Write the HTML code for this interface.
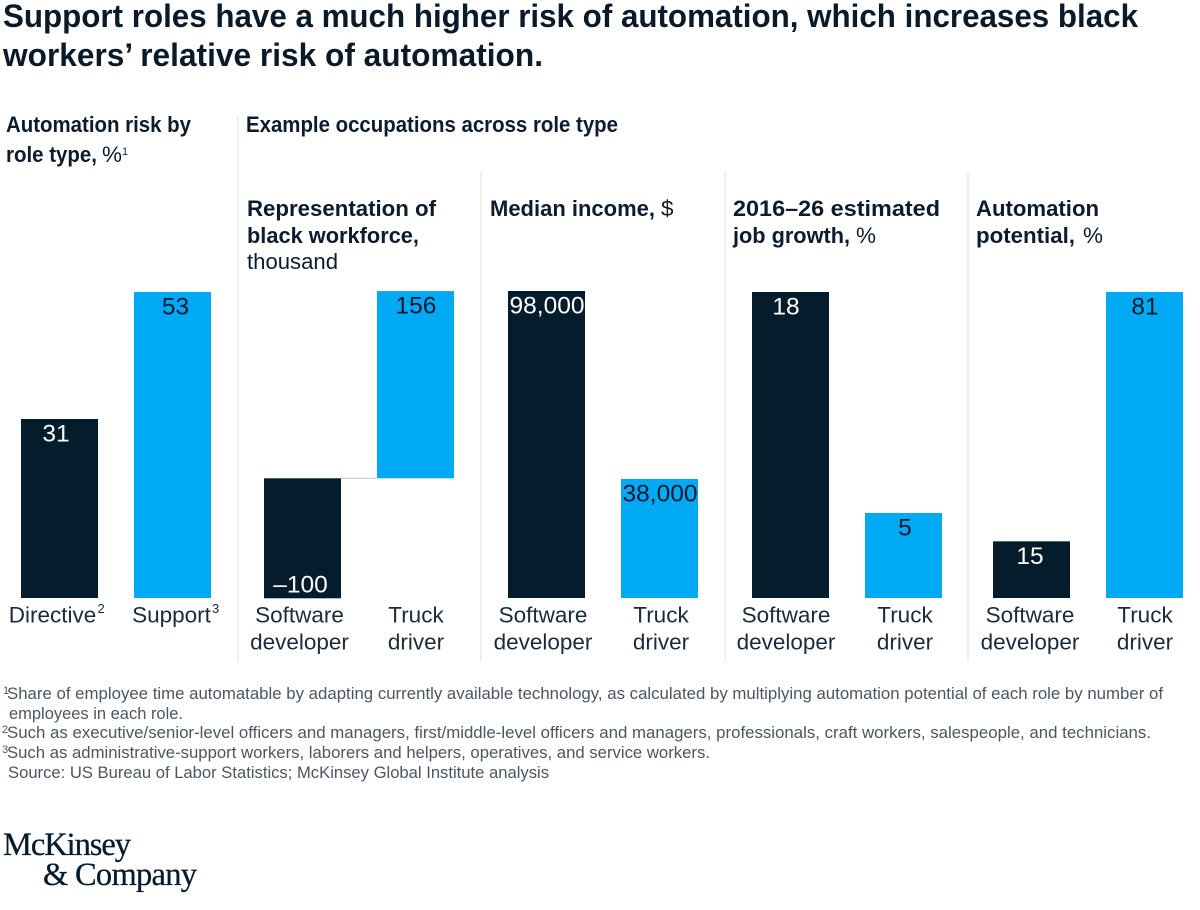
<!DOCTYPE html>
<html lang="en">
<head>
<meta charset="utf-8">
<title>Support roles automation risk</title>
<style>
html,body{margin:0;padding:0;background:#fff;}
body{width:1200px;height:910px;overflow:hidden;}
svg{display:block;font-family:"Liberation Sans",sans-serif;}
.title{font-size:32.5px;font-weight:700;fill:#0a1a29;}
.head{font-size:22px;font-weight:700;fill:#0c1c2e;}
.sub{font-size:22.5px;font-weight:400;fill:#0c1c2e;}
.cat{font-size:22.5px;fill:#1c2b3a;text-anchor:middle;}
.val{font-size:24.5px;text-anchor:middle;}
.note{font-size:16.5px;fill:#4b5663;}
.sup{font-size:11px;fill:#4b5663;}
.supd{font-size:13px;fill:#1c2b3a;}
.logo{font-family:"Liberation Serif",serif;font-size:32.5px;fill:#051c2c;stroke:#051c2c;stroke-width:.3px;}
</style>
</head>
<body>
<svg id="chart" width="1200" height="910" viewBox="0 0 1200 910" xmlns="http://www.w3.org/2000/svg">
  <rect x="0" y="0" width="1200" height="910" fill="#fff"/>
  <g>
    <text class="title" x="3" y="27" textLength="1135" lengthAdjust="spacingAndGlyphs">Support roles have a much higher risk of automation, which increases black</text>
    <text class="title" x="3" y="66" textLength="540" lengthAdjust="spacingAndGlyphs">workers’ relative risk of automation.</text>
  </g>

  <g stroke="#e6e6e6" stroke-width="1.2">
    <line x1="238" y1="116" x2="238" y2="662"/>
    <line x1="481" y1="172" x2="481" y2="662"/>
    <line x1="725" y1="172" x2="725" y2="662"/>
    <line x1="968" y1="172" x2="968" y2="662"/>
  </g>

  <g>
    <text class="head" x="6" y="132" textLength="185" lengthAdjust="spacingAndGlyphs">Automation risk by</text>
    <text class="head" x="6" y="162" textLength="91" lengthAdjust="spacingAndGlyphs">role type,</text>
    <text class="sub" x="102" y="162" textLength="20" lengthAdjust="spacingAndGlyphs">%</text>
    <text class="supd" x="122" y="155" style="font-size:11px">1</text>
    <text class="head" x="246" y="132" textLength="372" lengthAdjust="spacingAndGlyphs">Example occupations across role type</text>
    <text class="head" x="247" y="216" textLength="189" lengthAdjust="spacingAndGlyphs">Representation of</text>
    <text class="head" x="247" y="243" textLength="172" lengthAdjust="spacingAndGlyphs">black workforce,</text>
    <text class="sub" x="247" y="269" textLength="91" lengthAdjust="spacingAndGlyphs">thousand</text>
    <text class="head" x="490" y="216" textLength="165" lengthAdjust="spacingAndGlyphs">Median income,</text>
    <text class="sub" x="661" y="216">$</text>
    <text class="head" x="733" y="216" textLength="207" lengthAdjust="spacingAndGlyphs">2016–26 estimated</text>
    <text class="head" x="733" y="243" textLength="117" lengthAdjust="spacingAndGlyphs">job growth,</text>
    <text class="sub" x="856" y="243">%</text>
    <text class="head" x="976" y="216" textLength="123" lengthAdjust="spacingAndGlyphs">Automation</text>
    <text class="head" x="976" y="243" textLength="99" lengthAdjust="spacingAndGlyphs">potential,</text>
    <text class="sub" x="1083" y="243">%</text>
  </g>

  <g id="marks"></g>

  <g>
    <text class="supd" x="97.5" y="613">2</text>
    <text class="supd" x="212" y="613">3</text>
  </g>

  <g>
    <text class="sup" x="3" y="694">1</text>
    <text class="note" x="7" y="699" textLength="1156" lengthAdjust="spacingAndGlyphs">Share of employee time automatable by adapting currently available technology, as calculated by multiplying automation potential of each role by number of</text>
    <text class="note" x="9" y="719" textLength="174" lengthAdjust="spacingAndGlyphs">employees in each role.</text>
    <text class="sup" x="2" y="733">2</text>
    <text class="note" x="7" y="738" textLength="1144" lengthAdjust="spacingAndGlyphs">Such as executive/senior-level officers and managers, first/middle-level officers and managers, professionals, craft workers, salespeople, and technicians.</text>
    <text class="sup" x="2" y="753">3</text>
    <text class="note" x="7" y="758" textLength="703" lengthAdjust="spacingAndGlyphs">Such as administrative-support workers, laborers and helpers, operatives, and service workers.</text>
    <text class="note" x="8" y="778" textLength="541" lengthAdjust="spacingAndGlyphs">Source: US Bureau of Labor Statistics; McKinsey Global Institute analysis</text>
  </g>

  <g>
    <text class="logo" x="3" y="855" textLength="128" lengthAdjust="spacing">McKinsey</text>
    <text class="logo" x="43" y="885" textLength="154" lengthAdjust="spacing">&amp; Company</text>
  </g>
</svg>

<script>
// Chart data
const roleCategories = ['Directive', 'Support'];
const roleRisk = [31, 53];
const occupationFirstLine = ['Software', 'Truck'];
const occupationSecondLine = ['developer', 'driver'];
const representationValues = [-100, 156];
const incomeValues = [98000, 38000];
const growthValues = [18, 5];
const potentialValues = [15, 81];

// Axis functions
const BASELINE = 598;
const NS = 'http://www.w3.org/2000/svg';
const BAR_WIDTH = 77;
const BAND_STEP = 113;
const DARK = '#051c2c';
const BLUE = '#00a9f4';
const marks = document.getElementById('marks');

function linearAxis(domainValue, domainPixels, zeroPixel) {
  return function (v) { return zeroPixel - (v / domainValue) * domainPixels; };
}
function bandX(panelLeft, index) {
  return panelLeft + index * BAND_STEP;
}
function bandCenter(panelLeft, index, nudgeFirst, nudgeSecond) {
  return bandX(panelLeft, index) + BAR_WIDTH / 2 + (index === 0 ? nudgeFirst : nudgeSecond);
}
function formatValue(v) {
  const abs = Math.abs(v).toString().replace(/\B(?=(\d{3})+(?!\d))/g, ',');
  return (v < 0 ? '–' : '') + abs;
}

const riskAxis = linearAxis(53, 306, BASELINE);
const representationAxis = linearAxis(100, 120, 478.3);
const incomeAxis = linearAxis(98000, 307, BASELINE);
const growthAxis = linearAxis(18, 306, BASELINE);
const potentialAxis = linearAxis(81, 306, BASELINE);

function drawPanel(panelName, panelLeft, values, axis, nudgeFirst, nudgeSecond) {
  const zero = axis(0);
  values.forEach(function (v, i) {
    const x = bandX(panelLeft, i);
    const end = axis(v);
    const top = Math.min(zero, end);
    const height = Math.abs(end - zero);
    const fill = i === 0 ? DARK : BLUE;

    const bar = document.createElementNS(NS, 'rect');
    
    
    bar.setAttribute('x', x);
    bar.setAttribute('y', top);
    bar.setAttribute('width', BAR_WIDTH);
    bar.setAttribute('height', height);
    bar.setAttribute('fill', fill);
    marks.appendChild(bar);

    const label = document.createElementNS(NS, 'text');
    
    
    label.setAttribute('class', 'val');
    label.setAttribute('x', bandCenter(panelLeft, i, nudgeFirst, nudgeSecond));
    label.setAttribute('y', v < 0 ? top + height - 6 : top + 22.5);
    label.setAttribute('fill', i === 0 ? '#ffffff' : '#04182b');
    label.textContent = formatValue(v);
    marks.appendChild(label);
  });
}

function drawOccupationLabels(panelName, panelLeft, nudgeFirst, nudgeSecond) {
  occupationFirstLine.forEach(function (word, i) {
    const cx = bandCenter(panelLeft, i, nudgeFirst, nudgeSecond);

    const first = document.createElementNS(NS, 'text');
    
    
    first.setAttribute('class', 'cat');
    first.setAttribute('x', cx);
    first.setAttribute('y', 622.5);
    first.textContent = word;
    marks.appendChild(first);

    const second = document.createElementNS(NS, 'text');
    
    
    second.setAttribute('class', 'cat');
    second.setAttribute('x', cx);
    second.setAttribute('y', 649.5);
    second.textContent = occupationSecondLine[i];
    marks.appendChild(second);
  });
}

// Automation risk by role type
drawPanel('risk', 21, roleRisk, riskAxis, -3.5, 3);
roleCategories.forEach(function (name, i) {
  const label = document.createElementNS(NS, 'text');
  
  
  label.setAttribute('class', 'cat');
  label.setAttribute('x', bandCenter(21, i, -7, -1));
  label.setAttribute('y', 622.5);
  label.textContent = name;
  marks.appendChild(label);
});

// Representation waterfall and its connector
const connector = document.createElementNS(NS, 'line');


connector.setAttribute('x1', bandX(264, 0) + BAR_WIDTH);
connector.setAttribute('x2', bandX(264, 1));
connector.setAttribute('y1', representationAxis(0));
connector.setAttribute('y2', representationAxis(0));
connector.setAttribute('stroke', '#c4c8cc');
connector.setAttribute('stroke-width', '1');
marks.appendChild(connector);
drawPanel('representation', 264, representationValues, representationAxis, -2, 0.5);
drawOccupationLabels('representation', 264, -3, 0.5);

drawPanel('income', 508, incomeValues, incomeAxis, 0.5, 0.5);
drawOccupationLabels('income', 508, -3.5, 1.5);

drawPanel('growth', 752, growthValues, growthAxis, -4.5, 1.5);
drawOccupationLabels('growth', 752, -4.5, 1.5);

drawPanel('potential', 993, potentialValues, potentialAxis, -1.5, 0.5);
drawOccupationLabels('potential', 993, -1.5, 0.5);
</script>
</body>
</html>
